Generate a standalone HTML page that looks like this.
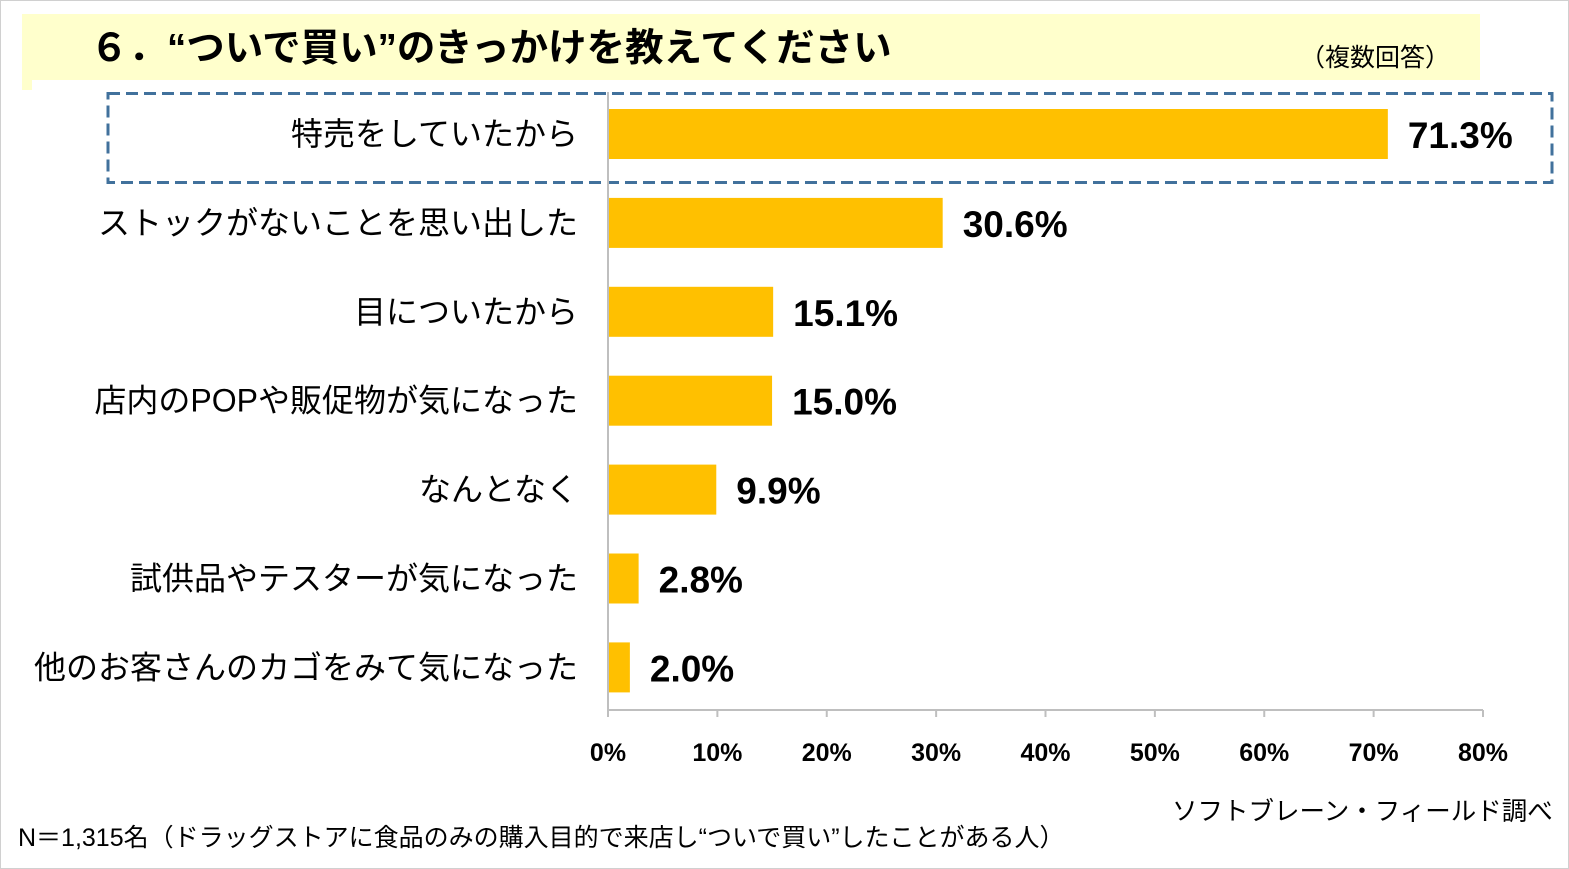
<!DOCTYPE html>
<html><head><meta charset="utf-8"><style>
body{margin:0;width:1569px;height:869px;background:#fff;position:relative;overflow:hidden;font-family:"Liberation Sans","Noto Sans CJK JP",sans-serif}
.abs{position:absolute}
</style></head><body>
<div class="abs" style="left:0;top:0;width:1567px;height:867px;border:1px solid #d0d0d0"></div>
<div class="abs" style="left:22px;top:14px;width:1458px;height:66px;background:#ffffcc"></div>
<div class="abs" style="left:22px;top:78px;width:10px;height:12px;background:#ffffcc"></div>
<div class="abs" style="left:90px;top:17px;font-size:38.5px;font-weight:bold;color:#000;white-space:nowrap">６．“ついで買い”のきっかけを教えてください</div>
<div class="abs" style="left:1300px;top:38px;font-size:25px;white-space:nowrap">（複数回答）</div>
<svg class="abs" style="left:0;top:0" width="1569" height="869"><rect x="108" y="93.5" width="1444" height="89" fill="none" stroke="#41719c" stroke-width="3" stroke-dasharray="12,6"/></svg>
<svg id="chart" class="abs" style="left:0;top:0" width="1569" height="869"></svg>
<div class="abs" style="left:1172px;top:791px;font-size:25.5px;white-space:nowrap">ソフトブレーン・フィールド調べ</div>
<div class="abs" style="left:18px;top:818px;font-size:25px;white-space:nowrap">N＝1,315名（ドラッグストアに食品のみの購入目的で来店し“ついで買い”したことがある人）</div>
<script>
const categories=["特売をしていたから","ストックがないことを思い出した","目についたから","店内のPOPや販促物が気になった","なんとなく","試供品やテスターが気になった","他のお客さんのカゴをみて気になった"];
const values=[71.3,30.6,15.1,15.0,9.9,2.8,2.0];
const ticks=[0,10,20,30,40,50,60,70,80];
const svg=document.getElementById('chart');const NS='http://www.w3.org/2000/svg';
const x0=608,x1=1483,xmax=80,y0=134,step=88.9,bh=50,axisY=710;
const X=v=>x0+(x1-x0)*v/xmax;const Y=i=>y0+i*step;
function mk(t,a,txt){const e=document.createElementNS(NS,t);for(const k in a)e.setAttribute(k,a[k]);if(txt!=null)e.textContent=txt;svg.appendChild(e);return e;}
let e=mk('line',{x1:x0,y1:92,x2:x0,y2:axisY,stroke:'#bfbfbf','stroke-width':2});


e=mk('line',{x1:x0,y1:axisY,x2:x1,y2:axisY,stroke:'#bfbfbf','stroke-width':2});


ticks.forEach(t=>{
 e=mk('line',{x1:X(t),y1:axisY,x2:X(t),y2:axisY+7,stroke:'#bfbfbf','stroke-width':2});
 
 
 e=mk('text',{x:X(t),y:761,'text-anchor':'middle','font-size':25,'font-weight':'bold',fill:'#000'},t+'%');
 
 
});
categories.forEach((c,i)=>{
 e=mk('rect',{x:x0+1,y:Y(i)-bh/2,width:X(values[i])-x0-1,height:bh,fill:'#ffc000'});
 
 
 e=mk('text',{x:X(values[i])+20,y:Y(i)+14,'font-size':37,'font-weight':'bold',fill:'#000'},values[i].toFixed(1)+'%');
 
 
 e=mk('text',{x:578,y:Y(i)+11,'text-anchor':'end','font-size':32,fill:'#000'},c);
 
 
});
</script>
</body></html>
